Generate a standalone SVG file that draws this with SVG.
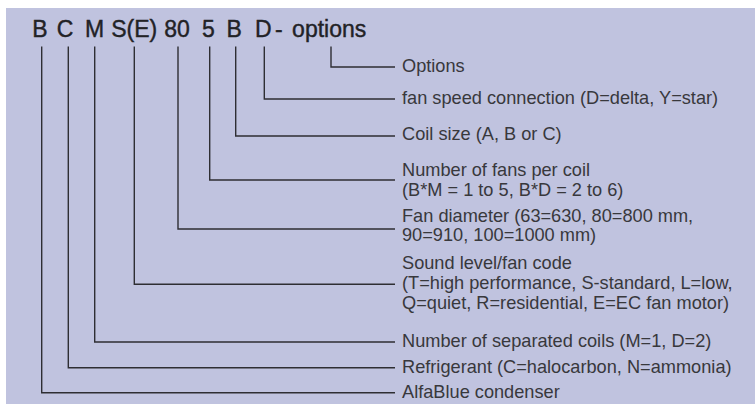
<svg xmlns="http://www.w3.org/2000/svg" width="755" height="405" viewBox="0 0 755 405">
<style>
.bg{fill:#c0c3df}
.ln{fill:none;stroke:#2e2e33;stroke-width:1.4}
.lbl{font-family:"Liberation Sans",Arial,sans-serif;font-size:18.2px;fill:#38383c}
.ttl{font-family:"Liberation Sans",Arial,sans-serif;font-size:23px;fill:#222226;stroke:#222226;stroke-width:0.4;text-anchor:middle}
</style>
<rect class="bg" x="6" y="8" width="749" height="396"/>
<g id="title">
<text class="ttl" y="36.5"><tspan x="39.8">B</tspan><tspan x="65">C</tspan><tspan x="94.5">M</tspan><tspan x="134.2">S(E)</tspan><tspan x="177">80</tspan><tspan x="208.3">5</tspan><tspan x="234.2">B</tspan><tspan x="263.3">D</tspan><tspan x="278.8">-</tspan><tspan x="329.2">options</tspan></text>
</g>
<g id="connectors">
<path class="ln" d="M331 46.5V67H395"/>
<path class="ln" d="M264.3 46.5V99H395"/>
<path class="ln" d="M235.7 46.5V136H395"/>
<path class="ln" d="M209.7 46.5V180H395"/>
<path class="ln" d="M178 46.5V229H395"/>
<path class="ln" d="M134.3 46.5V284.3H395"/>
<path class="ln" d="M94.7 46.5V342H395"/>
<path class="ln" d="M68.3 46.5V367.8H395"/>
<path class="ln" d="M41.7 46.5V392.8H395"/>
</g>
<g id="options"><text class="lbl" x="402" y="71.7">Options</text></g>
<g id="fan-speed"><text class="lbl" x="402" y="103.5">fan speed connection (D=delta, Y=star)</text></g>
<g id="coil-size"><text class="lbl" x="402" y="140.3">Coil size (A, B or C)</text></g>
<g id="fans-per-coil"><text class="lbl" x="402" y="175.8">Number of fans per coil<tspan x="402" y="195.5">(B*M = 1 to 5, B*D = 2 to 6)</tspan></text></g>
<g id="fan-diameter"><text class="lbl" x="402" y="221.7">Fan diameter (63=630, 80=800 mm,<tspan x="402" y="241.3">90=910, 100=1000 mm)</tspan></text></g>
<g id="sound-level"><text class="lbl" x="402" y="269.3">Sound level/fan code<tspan x="402" y="288.9">(T=high performance, S-standard, L=low,</tspan><tspan x="402" y="308.7">Q=quiet, R=residential, E=EC fan motor)</tspan></text></g>
<g id="coils"><text class="lbl" x="402" y="346.8">Number of separated coils (M=1, D=2)</text></g>
<g id="refrigerant"><text class="lbl" x="402" y="372.5">Refrigerant (C=halocarbon, N=ammonia)</text></g>
<g id="condenser"><text class="lbl" x="402" y="397.6">AlfaBlue condenser</text></g>
</svg>
